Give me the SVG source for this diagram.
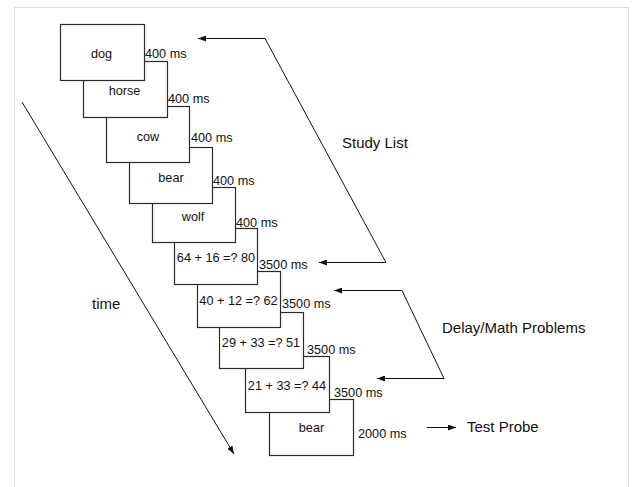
<svg xmlns="http://www.w3.org/2000/svg" width="633" height="487" viewBox="0 0 633 487">
<defs>
<style>
.frame{fill:none;stroke:#dcdcdc;stroke-width:1}
.box rect{fill:#fff;stroke:#2a2a2a;stroke-width:1.2}
.box text{font-family:"Liberation Sans",Arial,sans-serif;font-size:12.7px;fill:#111;text-anchor:middle}
.dur{font-family:"Liberation Sans",Arial,sans-serif;font-size:12.7px;fill:#111}
.lbl{font-family:"Liberation Sans",Arial,sans-serif;font-size:15px;fill:#111}
.conn{fill:none;stroke:#111;stroke-width:1}
</style>
<marker id="ah" viewBox="0 0 8 6" refX="8" refY="3" markerWidth="8" markerHeight="6" markerUnits="userSpaceOnUse" orient="auto">
<path d="M0,0 L8,3 L0,6 Z" fill="#111"/>
</marker>
</defs>
<rect class="frame" x="14.5" y="7.5" width="614" height="500"/>
<g id="nodes">
<g id="n10" class="box"><rect x="269.5" y="399.5" width="84" height="56"/><text x="311.5" y="432">bear</text></g>
<g id="n9" class="box"><rect x="245.5" y="356.5" width="84" height="56"/><text x="287" y="389.5">21 + 33 =? 44</text></g>
<g id="n8" class="box"><rect x="219.5" y="312.5" width="84" height="56"/><text x="261" y="346.5">29 + 33 =? 51</text></g>
<g id="n7" class="box"><rect x="197.5" y="271.5" width="83" height="56"/><text x="238.5" y="304.5">40 + 12 =? 62</text></g>
<g id="n6" class="box"><rect x="174.5" y="228.5" width="83" height="56"/><text x="216" y="261.5">64 + 16 =? 80</text></g>
<g id="n5" class="box"><rect x="152.5" y="187.5" width="83" height="55"/><text x="193" y="220.5">wolf</text></g>
<g id="n4" class="box"><rect x="129.5" y="147.5" width="83" height="56"/><text x="171" y="181.5">bear</text></g>
<g id="n3" class="box"><rect x="106.5" y="106.5" width="83" height="56"/><text x="148" y="140.5">cow</text></g>
<g id="n2" class="box"><rect x="83.5" y="61.5" width="84" height="56"/><text x="124.5" y="94.5">horse</text></g>
<g id="n1" class="box"><rect x="60.5" y="24.5" width="84" height="56"/><text x="101.5" y="58">dog</text></g>
</g>
<g id="durations">
<text class="dur" x="145" y="57.5">400 ms</text>
<text class="dur" x="168" y="102.5">400 ms</text>
<text class="dur" x="191" y="141.5">400 ms</text>
<text class="dur" x="213" y="184.5">400 ms</text>
<text class="dur" x="236" y="226.5">400 ms</text>
<text class="dur" x="259" y="268.5">3500 ms</text>
<text class="dur" x="282" y="307.5">3500 ms</text>
<text class="dur" x="307" y="353.5">3500 ms</text>
<text class="dur" x="334" y="396.5">3500 ms</text>
<text class="dur" x="358" y="437.5">2000 ms</text>
</g>
<g id="connectors">
<polyline class="conn" points="386,262.5 265,38.5 198,38.5" marker-end="url(#ah)"/>
<path class="conn" d="M386,262.5 L319,262.5" marker-end="url(#ah)"/>
<polyline class="conn" points="444,378.5 402,290.5 334,290.5" marker-end="url(#ah)"/>
<path class="conn" d="M444,378.5 L377,378.5" marker-end="url(#ah)"/>
<path class="conn" d="M427,427.5 L456,427.5" marker-end="url(#ah)"/>
<path class="conn" d="M22,102 L234,454" marker-end="url(#ah)"/>
</g>
<g id="labels">
<text class="lbl" x="342" y="148">Study List</text>
<text class="lbl" x="442" y="333">Delay/Math Problems</text>
<text class="lbl" x="467" y="432">Test Probe</text>
<text class="lbl" x="92" y="309">time</text>
</g>
</svg>
